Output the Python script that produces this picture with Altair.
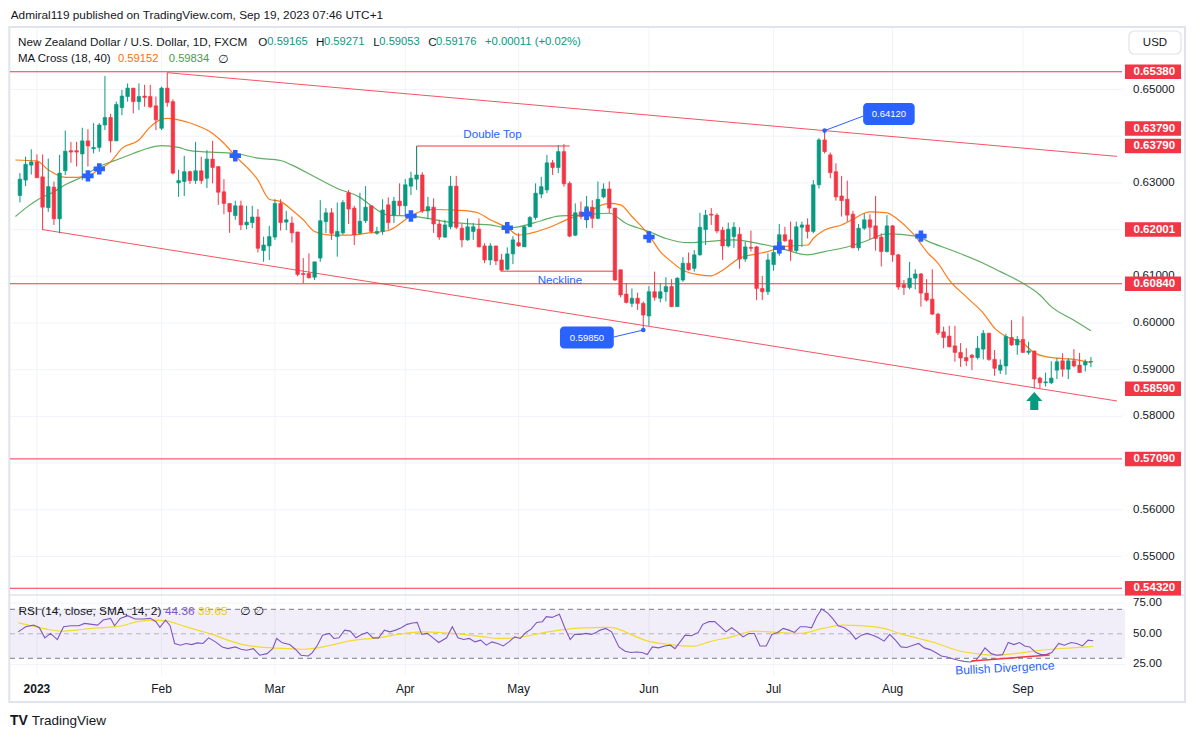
import altair as alt
import pandas as pd
import numpy as np

FONT = "Liberation Sans, DejaVu Sans, sans-serif"
DARK = "#131722"
GREEN = "#089981"
RED = "#f23645"
BLUE = "#2962ff"
ORANGE = "#ff6d00"
MAGREEN = "#43a047"
PURPLE = "#7e57c2"
YELLOW = "#f3da2b"
GRID = "#f0f3fa"
FRAME = "#e0e3eb"

# ---------------- data ----------------
first_index = -3  # bar index of first candle (Dec 28, 2022); 0 = Jan 2, 2023

opens = [
    .6273, .6306, .6338, .6345, .6313, .6247, .6291, .6223, .6326, .6369,
    .6369, .6362, .6390, .6373, .6376, .6424, .6440, .6390, .6461, .6485,
    .6503, .6474, .6486, .6485, .6465, .6417, .6503, .6474, .6300, .6303,
    .6324, .6305, .6326, .6310, .6351, .6335, .6281, .6256, .6230, .6251,
    .6210, .6215, .6227, .6155, .6165, .6184, .6256, .6216, .6214, .6195,
    .6106, .6106, .6098, .6139, .6217, .6236, .6185, .6193, .6279, .6246,
    .6192, .6219, .6251, .6192, .6196, .6253, .6231, .6261, .6251, .6293,
    .6308, .6317, .6240, .6248, .6212, .6184, .6206, .6293, .6203, .6178,
    .6196, .6201, .6165, .6135, .6165, .6135, .6115, .6148, .6172, .6163,
    .6206, .6226, .6276, .6285, .6343, .6333, .6367, .6299, .6188, .6238,
    .6221, .6248, .6224, .6270, .6287, .6246, .6114, .6062, .6042, .6053,
    .6042, .6015, .6067, .6053, .6067, .6078, .6035, .6092, .6128, .6117,
    .6146, .6200, .6233, .6231, .6199, .6165, .6185, .6190, .6137, .6162,
    .6163, .6074, .6067, .6125, .6150, .6189, .6178, .6155, .6205, .6210,
    .6196, .6296, .6392, .6360, .6324, .6272, .6265, .6233, .6161, .6203,
    .6221, .6208, .6184, .6153, .6208, .6146, .6082, .6076, .6096, .6105,
    .6064, .6051, .6019, .5981, .5972, .5951, .5937, .5926, .5931, .5926,
    .5944, .5978, .5922, .5899, .5908, .5969, .5953, .5965, .5937, .5940,
    .5882, .5872, .5872, .5899, .5919, .5901, .5919, .5910, .5910, .59165,
]
highs = [
    .6321, .6356, .6372, .6361, .6361, .6352, .6303, .6360, .6412, .6388,
    .6388, .6418, .6415, .6428, .6428, .6529, .6448, .6474, .6499, .6513,
    .6503, .6513, .6510, .6510, .6485, .6506, .6536, .6479, .6328, .6358,
    .6326, .6388, .6356, .6370, .6390, .6335, .6308, .6256, .6262, .6262,
    .6251, .6251, .6244, .6185, .6208, .6265, .6265, .6240, .6228, .6195,
    .6139, .6149, .6131, .6263, .6246, .6246, .6258, .6263, .6285, .6251,
    .6279, .6293, .6251, .6206, .6265, .6269, .6270, .6299, .6308, .6324,
    .6379, .6323, .6270, .6267, .6221, .6221, .6315, .6315, .6212, .6224,
    .6214, .6224, .6171, .6171, .6165, .6148, .6162, .6186, .6192, .6210,
    .6229, .6299, .6313, .6360, .6349, .6381, .6383, .6303, .6256, .6260,
    .6272, .6263, .6303, .6299, .6303, .6246, .6114, .6085, .6074, .6065,
    .6046, .6079, .6110, .6085, .6098, .6094, .6098, .6141, .6151, .6156,
    .6236, .6242, .6246, .6235, .6206, .6215, .6216, .6205, .6174, .6198,
    .6165, .6101, .6149, .6165, .6212, .6206, .6217, .6217, .6217, .6224,
    .6306, .6396, .6412, .6365, .6342, .6315, .6305, .6240, .6212, .6235,
    .6233, .6272, .6192, .6231, .6210, .6148, .6092, .6131, .6115, .6107,
    .6094, .6115, .6022, .5992, .5994, .5994, .5957, .5946, .5934, .5972,
    .5985, .5979, .5942, .5922, .5977, .6006, .5972, .6014, .5960, .5941,
    .5885, .5894, .5918, .5925, .5935, .5925, .5944, .5936, .5922, .59271,
]
lows = [
    .6258, .6293, .6318, .6311, .6199, .6238, .6210, .6192, .6317, .6343,
    .6335, .6306, .6335, .6363, .6367, .6413, .6365, .6390, .6445, .6474,
    .6449, .6456, .6463, .6460, .6413, .6413, .6463, .6318, .6270, .6272,
    .6298, .6298, .6298, .6289, .6299, .6253, .6233, .6193, .6221, .6199,
    .6201, .6203, .6151, .6131, .6135, .6178, .6198, .6199, .6172, .6100,
    .6085, .6095, .6092, .6131, .6192, .6178, .6142, .6189, .6212, .6167,
    .6189, .6214, .6192, .6189, .6189, .6200, .6214, .6231, .6229, .6274,
    .6285, .6236, .6222, .6193, .6178, .6182, .6201, .6201, .6162, .6176,
    .6178, .6162, .6128, .6124, .6124, .6112, .6113, .6126, .6163, .6163,
    .6206, .6221, .6267, .6278, .6317, .6321, .6292, .6184, .6186, .6222,
    .6203, .6203, .6222, .6267, .6235, .6090, .6055, .6042, .6034, .6028,
    .5985, .5994, .6048, .6044, .6046, .6034, .6034, .6088, .6112, .6110,
    .6144, .6167, .6210, .6192, .6135, .6162, .6161, .6116, .6131, .6153,
    .6049, .6049, .6060, .6112, .6144, .6174, .6133, .6151, .6163, .6181,
    .6192, .6288, .6363, .6310, .6262, .6228, .6217, .6160, .6155, .6199,
    .6179, .6155, .6121, .6151, .6131, .6071, .6060, .6072, .6072, .6035,
    .6046, .6017, .5974, .5946, .5948, .5917, .5906, .5908, .5899, .5922,
    .5922, .5919, .5887, .5891, .5889, .5951, .5932, .5936, .5932, .5860,
    .5860, .5864, .5869, .5880, .5885, .5880, .5905, .5893, .5896, .59053,
]
closes = [
    .6308, .6340, .6345, .6311, .6248, .6292, .6223, .6321, .6368, .6366,
    .6366, .6390, .6379, .6376, .6424, .6440, .6390, .6468, .6486, .6503,
    .6474, .6485, .6483, .6463, .6435, .6503, .6472, .6321, .6305, .6324,
    .6305, .6326, .6305, .6351, .6333, .6280, .6256, .6238, .6251, .6210,
    .6216, .6227, .6160, .6167, .6185, .6256, .6215, .6221, .6193, .6104,
    .6104, .6097, .6131, .6219, .6236, .6192, .6196, .6258, .6244, .6189,
    .6218, .6248, .6196, .6196, .6242, .6215, .6261, .6251, .6296, .6310,
    .6317, .6240, .6249, .6212, .6184, .6210, .6293, .6205, .6178, .6206,
    .6206, .6163, .6135, .6165, .6133, .6113, .6148, .6178, .6165, .6206,
    .6226, .6278, .6292, .6343, .6333, .6367, .6298, .6186, .6236, .6228,
    .6249, .6224, .6265, .6287, .6246, .6092, .6060, .6044, .6053, .6042,
    .6017, .6067, .6055, .6067, .6078, .6035, .6096, .6128, .6114, .6146,
    .6205, .6231, .6231, .6197, .6165, .6201, .6205, .6137, .6163, .6160,
    .6074, .6067, .6135, .6151, .6189, .6176, .6155, .6206, .6210, .6196,
    .6296, .6392, .6367, .6322, .6270, .6262, .6231, .6161, .6203, .6221,
    .6205, .6181, .6153, .6208, .6146, .6077, .6076, .6096, .6105, .6064,
    .6049, .6019, .5979, .5969, .5949, .5937, .5925, .5919, .5926, .5946,
    .5978, .5922, .5903, .5910, .5971, .5953, .5965, .5937, .5940, .5880,
    .5872, .5874, .5882, .5917, .5901, .5919, .5908, .5894, .5917, .59176,
]

# MA Cross (18, 40)
ma18_i = [-3.8, 0, 2, 5, 7, 9, 11, 13, 15, 18, 20, 22, 23, 25, 28, 31, 33, 35, 39, 41,
          43, 45, 47, 49, 52, 55, 58, 62, 66, 68, 70, 73, 76, 78, 80, 83, 85, 87, 90, 92,
          94, 97, 99, 101, 103, 105, 108, 110, 112, 114, 117, 119, 121, 124, 127, 129, 131, 133, 136, 137,
          139, 142, 144, 146, 147, 150, 152, 154, 155, 157, 159, 161, 164, 167, 169, 171, 174, 176, 178, 181,
          183, 186]
ma18_v = [0.6349, 0.6347, 0.6328, 0.6312, 0.6312, 0.6315, 0.6329, 0.6345, 0.6374, 0.6392,
          0.6420, 0.6436, 0.6438, 0.6435, 0.6424, 0.6406, 0.6385, 0.6358, 0.6306, 0.6265,
          0.6260, 0.6242, 0.6221, 0.6196, 0.6188, 0.6188, 0.6192, 0.6198, 0.6229, 0.6240,
          0.6243, 0.6242, 0.6240, 0.6235, 0.6221, 0.6204, 0.6188, 0.6192, 0.6203, 0.6213,
          0.6224, 0.6235, 0.6249, 0.6256, 0.6253, 0.6228, 0.6188, 0.6153, 0.6131, 0.6113,
          0.6103, 0.6101, 0.6113, 0.6139, 0.6148, 0.6153, 0.6161, 0.6165, 0.6167, 0.6181,
          0.6199, 0.6210, 0.6222, 0.6235, 0.6238, 0.6236, 0.6221, 0.6199, 0.6186, 0.6153,
          0.6128, 0.6092, 0.6056, 0.6021, 0.5989, 0.5971, 0.5957, 0.5936, 0.5928, 0.5924,
          0.5922, 0.59152]
ma40_i = [-3.8, -2, 0, 3, 5, 8, 11, 14, 17, 19, 22, 25, 27, 29, 35, 39, 43, 45, 49, 53,
          57, 59, 62, 66, 69, 72, 77, 80, 83, 85, 89, 92, 96, 101, 104, 108, 111, 115, 118, 123,
          127, 131, 136, 139, 142, 146, 150, 155, 158, 162, 167, 170, 174, 177, 179, 183, 186]
ma40_v = [0.6228, 0.6246, 0.6263, 0.6281, 0.6296, 0.6313, 0.6335, 0.6349, 0.6363, 0.6372,
          0.6380, 0.6376, 0.6369, 0.6367, 0.6363, 0.6353, 0.6348, 0.6338, 0.6313, 0.6288,
          0.6269, 0.6251, 0.6231, 0.6229, 0.6224, 0.6217, 0.6212, 0.6210, 0.6204, 0.6206,
          0.6219, 0.6229, 0.6231, 0.6235, 0.6213, 0.6196, 0.6181, 0.6172, 0.6174, 0.6178,
          0.6171, 0.6161, 0.6146, 0.6153, 0.6160, 0.6174, 0.6191, 0.6186, 0.6171, 0.6153,
          0.6128, 0.6110, 0.6085, 0.6060, 0.6035, 0.6006, 0.59834]
cross_i = [9, 11, 35, 66, 83, 97, 108, 131, 156]
cross_p = [0.6315, 0.6330, 0.6358, 0.6229, 0.6204, 0.6233, 0.6184, 0.6161, 0.6186]

# RSI (14) and its SMA
rsi_i = [-3.3, -2.0, -0.6, 0.4, 1.4, 2.4, 3.6, 4.7, 6.0, 7.4,
         8.4, 9.7, 10.7, 11.7, 13.0, 13.7, 14.7, 16.0, 17.3, 18.7,
         20.0, 21.0, 21.7, 22.7, 23.5, 24.3, 25.3, 26.3, 27.3, 28.3,
         29.3, 30.3, 31.5, 32.7, 33.7, 35.0, 36.0, 37.0, 38.2, 39.3,
         40.6, 41.6, 42.3, 43.3, 44.6, 45.6, 46.6, 47.9, 48.6, 49.5,
         50.4, 51.6, 52.4, 53.3, 54.3, 55.3, 56.3, 57.3, 58.3, 59.3,
         60.3, 61.3, 62.3, 63.3, 64.3, 65.3, 66.3, 67.1, 67.9, 68.9,
         69.9, 70.9, 72.3, 73.3, 74.3, 75.3, 76.3, 77.3, 78.3, 79.3,
         80.3, 81.3, 82.3, 83.3, 84.3, 85.3, 86.3, 87.2, 88.2, 89.2,
         89.9, 90.9, 92.2, 93.2, 94.1, 94.9, 95.9, 96.9, 97.9, 98.9,
         99.4, 100.4, 101.4, 102.7, 103.8, 104.8, 105.8, 106.8, 107.7, 108.6,
         109.7, 110.8, 111.8, 112.6, 113.5, 114.4, 115.5, 116.7, 117.5, 118.6,
         119.6, 120.6, 121.6, 122.6, 123.6, 124.6, 125.6, 126.6, 127.6, 128.7,
         129.7, 130.7, 131.7, 132.7, 133.7, 134.7, 135.7, 136.7, 137.6, 138.5,
         139.6, 140.4, 141.4, 142.5, 143.5, 144.5, 145.5, 146.5, 147.5, 148.5,
         149.5, 150.5, 151.5, 152.5, 153.5, 154.6, 155.6, 156.6, 157.6, 158.6,
         159.6, 160.6, 161.6, 162.6, 163.6, 164.7, 165.7, 166.5, 167.3, 168.4,
         169.4, 170.4, 171.4, 172.4, 173.4, 174.3, 175.2, 176.3, 177.2, 178.1,
         179.1, 180.3, 181.3, 182.5, 183.5, 184.5, 185.5, 186.4]
rsi_v = [51.6, 55.8, 57.1, 55.2, 46.7, 50.3, 45.3, 55.8, 56.6, 56.6,
         58.5, 57.7, 57.1, 61.2, 62.6, 56.6, 62.6, 64.8, 62.1, 62.1,
         62.6, 59.9, 55.2, 61.2, 56.6, 42.1, 40.7, 42.1, 41.2, 42.6,
         42.1, 46.7, 43.4, 39.3, 37.9, 39.3, 37.4, 36.6, 37.9, 32.5,
         33.8, 37.9, 46.2, 42.6, 41.2, 37.4, 32.5, 31.9, 34.7, 40.7,
         48.9, 50.3, 46.2, 46.7, 53.0, 52.2, 46.7, 49.5, 51.1, 46.7,
         46.7, 53.0, 51.6, 53.0, 54.9, 57.7, 58.8, 59.3, 49.5, 50.3,
         46.7, 42.9, 46.7, 55.8, 46.7, 45.3, 46.2, 43.4, 44.8, 40.7,
         43.4, 42.1, 40.1, 43.4, 47.5, 46.2, 51.1, 53.8, 59.3, 59.9,
         64.0, 63.4, 65.9, 54.4, 45.3, 49.5, 49.5, 50.3, 49.5, 51.6,
         53.0, 54.4, 51.6, 39.3, 35.8, 34.7, 35.2, 34.7, 33.0, 39.3,
         38.5, 40.1, 40.7, 37.9, 43.4, 48.9, 48.4, 51.1, 57.7, 59.9,
         59.9, 55.8, 51.6, 54.9, 51.6, 47.5, 50.3, 50.3, 40.1, 40.1,
         49.5, 51.1, 54.4, 53.0, 51.1, 55.8, 55.8, 54.9, 64.0, 70.3,
         66.7, 62.6, 56.6, 54.9, 51.6, 45.6, 48.9, 50.3, 48.9, 46.7,
         44.0, 49.5, 44.8, 39.3, 38.8, 40.7, 42.1, 38.5, 37.1, 34.7,
         31.9, 31.1, 29.7, 28.4, 27.5, 27.0, 28.4, 33.0, 38.5, 33.8,
         32.5, 33.0, 42.9, 41.2, 42.9, 40.1, 39.3, 34.7, 33.0, 33.0,
         34.7, 42.1, 40.7, 42.9, 42.1, 40.1, 44.8, 44.36]
sma_i = [-3.3, -1.0, 1.7, 4.4, 7.0, 9.7, 12.3, 15.0, 17.7, 20.3,
         23.0, 25.7, 28.3, 31.0, 33.7, 36.3, 39.0, 41.6, 44.3, 47.0,
         49.6, 52.3, 55.0, 57.6, 60.3, 62.9, 65.6, 68.3, 70.9, 73.6,
         76.3, 78.9, 81.6, 84.2, 86.9, 89.6, 92.2, 94.9, 97.6, 99.4,
         101.1, 103.1, 105.1, 107.8, 111.8, 115.9, 118.6, 122.6, 126.6, 130.7,
         134.7, 138.7, 142.1, 145.5, 149.5, 152.2, 155.6, 158.9, 162.3, 165.7,
         169.0, 172.4, 175.8, 179.1, 182.5, 186.4]
sma_v = [59.0, 56.6, 53.8, 52.2, 53.0, 54.4, 55.2, 56.6, 59.9, 61.2,
         60.4, 56.6, 53.0, 49.5, 44.8, 41.2, 39.3, 38.5, 37.9, 37.4,
         38.5, 41.2, 44.0, 45.6, 46.7, 48.9, 50.8, 51.6, 51.1, 50.3,
         48.9, 47.5, 46.2, 46.7, 48.4, 51.1, 53.0, 54.4, 54.9, 55.2,
         55.2, 53.0, 48.9, 44.0, 41.2, 39.9, 43.4, 47.5, 52.2, 51.1,
         50.3, 54.4, 57.1, 56.6, 54.4, 50.3, 46.2, 42.1, 36.6, 33.8,
         32.5, 33.8, 35.8, 37.4, 38.5, 39.65]

month_index = [0, 22, 42, 65, 85, 108, 130, 151, 174]
month_label = ["2023", "Feb", "Mar", "Apr", "May", "Jun", "Jul", "Aug", "Sep"]
grid_prices = [0.55, 0.56, 0.57, 0.58, 0.59, 0.60, 0.61, 0.62, 0.63, 0.64, 0.65]
tick_prices = [0.55, 0.56, 0.58, 0.59, 0.60, 0.61, 0.63, 0.65]
level_prices = [0.6538, 0.6084, 0.5709, 0.5432]
tag_prices = [0.6538, 0.6379, 0.62001, 0.6084, 0.5859, 0.5709, 0.5432]
rsi_ticks = [25, 50, 75]

channel_i = [23, 190.6, 1, 190.6]
channel_p = [0.6536, 0.63568, 0.6200, 0.5833]
channel_g = ["upper", "upper", "lower", "lower"]
dtop_i = [67, 67, 94]
dtop_p = [0.6317, 0.6379, 0.6379]
neck_i = [81.8, 102.3]
neck_p = [0.6111, 0.6111]
callout_val = ["0.64120", "0.59850"]
callout_pt_i = [139, 107]
callout_pt_p = [0.6412, 0.5985]
callout_box_i1 = [145.8, 92.3]
callout_box_i2 = [154.9, 101.8]
callout_box_p1 = [0.64711, 0.59923]
callout_box_p2 = [0.64240, 0.59452]
callout_link_i = [145.8, 101.8]
callout_link_p = [0.6443, 0.5970]
div_i = [164.9, 178.7]
div_v = [27.8, 32.7]
arrow_i = [176]
arrow_p = [0.5833]

# ---------------- scales ----------------
X = alt.Scale(domain=[-3.87, 190.6], range=[2.0, 1114.0], zero=False, nice=False)
Y = alt.Scale(domain=[0.54, 0.66], range=[595.2, 34.8], zero=False, nice=False)
R = alt.Scale(domain=[0, 100], range=[687.05, 564.55], zero=False, nice=False)
CS = alt.Scale(domain=["up", "down"], range=[GREEN, RED])


def xq(f="i"):
    return alt.X(f"{f}:Q", scale=X, axis=None)


def yq(f="p", sc=Y):
    return alt.Y(f"{f}:Q", scale=sc, axis=None)


ONE = pd.DataFrame({"a": [0]})


def label(text, x, y, color=DARK, size=11.8, weight="normal", align="left"):
    return alt.Chart(pd.DataFrame({"t": [text]})).mark_text(
        align=align, baseline="middle", font=FONT, fontSize=size,
        fontWeight=weight, color=color
    ).encode(x=alt.value(x), y=alt.value(y), text="t:N")


idx = list(range(first_index, first_index + len(opens)))
candles = pd.DataFrame({"i": idx, "o": opens, "h": highs, "l": lows, "c": closes})
candles["dir"] = np.where(candles["c"] >= candles["o"], "up", "down")

layers = []

# frame & grid
layers.append(alt.Chart(ONE).mark_rect(filled=False, stroke=FRAME, strokeWidth=2).encode(
    x=alt.value(1.3), x2=alt.value(1177), y=alt.value(19), y2=alt.value(694)))
layers.append(alt.Chart(pd.DataFrame({"i": month_index})).mark_rule(color=GRID, strokeWidth=1).encode(
    x=xq(), y=alt.value(20), y2=alt.value(667)))
layers.append(alt.Chart(pd.DataFrame({"p": grid_prices})).mark_rule(color=GRID, strokeWidth=1).encode(
    y=yq(), x=alt.value(2), x2=alt.value(1114)))
layers.append(alt.Chart(pd.DataFrame({"v": [25, 75]})).mark_rule(color=GRID, strokeWidth=1).encode(
    y=yq("v", R), x=alt.value(2), x2=alt.value(1117)))

# RSI band and band lines
layers.append(alt.Chart(pd.DataFrame({"a": [30], "b": [70]})).mark_rect(color=PURPLE, opacity=0.1).encode(
    y=yq("a", R), y2="b:Q", x=alt.value(2), x2=alt.value(1117)))
layers.append(alt.Chart(pd.DataFrame({"v": [30, 70]})).mark_rule(color="#787b86", strokeWidth=1, strokeDash=[5, 4]).encode(
    y=yq("v", R), x=alt.value(2), x2=alt.value(1117)))
layers.append(alt.Chart(pd.DataFrame({"v": [50]})).mark_rule(color="#787b86", opacity=0.5, strokeWidth=1, strokeDash=[5, 4]).encode(
    y=yq("v", R), x=alt.value(2), x2=alt.value(1117)))

# pane separator
layers.append(alt.Chart(ONE).mark_rule(color=FRAME, strokeWidth=1.5).encode(
    x=alt.value(1.3), x2=alt.value(1177), y=alt.value(587)))

# horizontal levels and channel
layers.append(alt.Chart(pd.DataFrame({"p": level_prices})).mark_rule(color=RED, strokeWidth=1).encode(
    y=yq(), x=alt.value(2), x2=alt.value(1114)))
layers.append(alt.Chart(pd.DataFrame({"i": channel_i, "p": channel_p, "g": channel_g})).mark_line(
    color=RED, strokeWidth=1, opacity=0.85).encode(x=xq(), y=yq(), detail="g:N"))
layers.append(alt.Chart(pd.DataFrame({"i": dtop_i, "p": dtop_p, "o": [0, 1, 2]})).mark_line(
    color=RED, strokeWidth=1).encode(x=xq(), y=yq(), order="o:Q"))
layers.append(alt.Chart(pd.DataFrame({"i": neck_i, "p": neck_p})).mark_line(
    color=RED, strokeWidth=1).encode(x=xq(), y=yq()))

# moving averages
layers.append(alt.Chart(pd.DataFrame({"i": ma40_i, "p": ma40_v})).mark_line(
    color=MAGREEN, strokeWidth=1.2, opacity=0.85, interpolate="monotone").encode(x=xq(), y=yq()))
layers.append(alt.Chart(pd.DataFrame({"i": ma18_i, "p": ma18_v})).mark_line(
    color=ORANGE, strokeWidth=1.2, opacity=0.9, interpolate="monotone").encode(x=xq(), y=yq()))

# candles
layers.append(alt.Chart(candles).mark_rule(strokeWidth=1).encode(
    x=xq(), y=yq("l"), y2="h:Q", color=alt.Color("dir:N", scale=CS, legend=None)))
layers.append(alt.Chart(candles).mark_bar(size=3.6, strokeWidth=0.6).encode(
    x=xq(), y=yq("o"), y2="c:Q",
    color=alt.Color("dir:N", scale=CS, legend=None),
    stroke=alt.Stroke("dir:N", scale=CS, legend=None)))

# MA cross markers
layers.append(alt.Chart(pd.DataFrame({"i": cross_i, "p": cross_p})).mark_point(
    shape="cross", filled=True, size=130, color=BLUE, opacity=1, strokeWidth=0).encode(x=xq(), y=yq()))

# callouts
links = pd.DataFrame({
    "i": callout_pt_i + callout_link_i,
    "p": callout_pt_p + callout_link_p,
    "g": [0, 1, 0, 1]})
layers.append(alt.Chart(links).mark_line(color=BLUE, strokeWidth=1).encode(x=xq(), y=yq(), detail="g:N"))
layers.append(alt.Chart(pd.DataFrame({"i": callout_pt_i, "p": callout_pt_p})).mark_point(
    filled=True, size=22, color=BLUE, opacity=1).encode(x=xq(), y=yq()))
boxes = pd.DataFrame({"i1": callout_box_i1, "i2": callout_box_i2, "p1": callout_box_p1,
                      "p2": callout_box_p2, "t": callout_val})
boxes["im"] = (boxes["i1"] + boxes["i2"]) / 2
boxes["pm"] = (boxes["p1"] + boxes["p2"]) / 2
layers.append(alt.Chart(boxes).mark_rect(color=BLUE, cornerRadius=4).encode(
    x=xq("i1"), x2="i2:Q", y=yq("p1"), y2="p2:Q"))
layers.append(alt.Chart(boxes).mark_text(color="white", font=FONT, fontSize=9.5, baseline="middle").encode(
    x=xq("im"), y=yq("pm"), text="t:N"))

# arrow
ARROW = "M0,-1L0.9,0L0.45,0L0.45,1L-0.45,1L-0.45,0L-0.9,0Z"
layers.append(alt.Chart(pd.DataFrame({"i": arrow_i, "p": arrow_p})).mark_point(
    shape=ARROW, filled=True, size=324, color=GREEN, opacity=1, strokeWidth=0).encode(x=xq(), y=yq()))

# RSI
layers.append(alt.Chart(pd.DataFrame({"i": sma_i, "v": sma_v})).mark_line(
    color=YELLOW, strokeWidth=1.2, interpolate="monotone").encode(x=xq(), y=yq("v", R)))
layers.append(alt.Chart(pd.DataFrame({"i": rsi_i, "v": rsi_v})).mark_line(
    color=PURPLE, strokeWidth=1.1).encode(x=xq(), y=yq("v", R)))
layers.append(alt.Chart(pd.DataFrame({"i": div_i, "v": div_v})).mark_line(
    color=RED, strokeWidth=1.5).encode(x=xq(), y=yq("v", R)))

# annotation texts
ann = pd.DataFrame({"i": [80.4, 92.3], "p": [0.64026, 0.6090], "t": ["Double Top", "Neckline"]})
layers.append(alt.Chart(ann).mark_text(color=BLUE, font=FONT, fontSize=11.6, baseline="middle").encode(
    x=xq(), y=yq(), text="t:N"))
layers.append(alt.Chart(pd.DataFrame({"i": [170.8], "v": [22.1], "t": ["Bullish Divergence"]})).mark_text(
    color=BLUE, font=FONT, fontSize=12, baseline="middle", angle=357).encode(
    x=xq(), y=yq("v", R), text="t:N"))

# right price scale
ticks = pd.DataFrame({"p": tick_prices})
ticks["t"] = ticks["p"].map(lambda v: f"{v:.5f}")
layers.append(alt.Chart(ticks).mark_text(color=DARK, font=FONT, fontSize=11.5, align="left", baseline="middle").encode(
    x=alt.value(1125), y=yq(), text="t:N"))
tags = pd.DataFrame({"p": tag_prices})
tags["t"] = tags["p"].map(lambda v: f"{v:.5f}")
tag_up = tags[tags["p"] == 0.6379].copy()
layers.append(alt.Chart(tags).mark_rule(color=RED, strokeWidth=14.5, strokeCap="butt").encode(
    x=alt.value(1117), x2=alt.value(1173), y=yq()))
layers.append(alt.Chart(tags).mark_text(color="white", font=FONT, fontSize=11.5, fontWeight="bold",
                                        align="left", baseline="middle").encode(
    x=alt.value(1125.5), y=yq(), text="t:N"))
layers.append(alt.Chart(tag_up).mark_rule(color=RED, strokeWidth=14.5, strokeCap="butt", yOffset=-17.5).encode(
    x=alt.value(1117), x2=alt.value(1173), y=yq()))
layers.append(alt.Chart(tag_up).mark_text(color="white", font=FONT, fontSize=11.5, fontWeight="bold",
                                          align="left", baseline="middle", dy=-17.5).encode(
    x=alt.value(1125.5), y=yq(), text="t:N"))
rt = pd.DataFrame({"v": rsi_ticks})
rt["t"] = rt["v"].map(lambda v: f"{v:.2f}")
layers.append(alt.Chart(rt).mark_text(color=DARK, font=FONT, fontSize=11.5, align="left", baseline="middle").encode(
    x=alt.value(1125), y=yq("v", R), text="t:N"))
layers.append(alt.Chart(ONE).mark_rect(fill="white", stroke=FRAME, strokeWidth=1.2, cornerRadius=5).encode(
    x=alt.value(1121), x2=alt.value(1173), y=alt.value(23), y2=alt.value(46)))
layers.append(label("USD", 1147, 34.5, size=11.5, align="center"))

# time axis labels
mx = pd.DataFrame({"i": month_index, "t": month_label})
mx["w"] = ["bold"] + ["normal"] * (len(month_label) - 1)
layers.append(alt.Chart(mx[mx["w"] == "bold"]).mark_text(color=DARK, font=FONT, fontSize=12, fontWeight="bold",
                                                         baseline="middle").encode(
    x=xq(), y=alt.value(681.3), text="t:N"))
layers.append(alt.Chart(mx[mx["w"] == "normal"]).mark_text(color=DARK, font=FONT, fontSize=12,
                                                           baseline="middle").encode(
    x=xq(), y=alt.value(681.3), text="t:N"))

# header texts
last = len(opens) - 1
layers.append(label("Admiral119 published on TradingView.com, Sep 19, 2023 07:46 UTC+1", 2.7, 7, size=11.8))
layers.append(label("New Zealand Dollar / U.S. Dollar, 1D, FXCM", 10, 34.3, size=11.7))
for t, x, col, sz in [("O", 250.3, DARK, 11.7), (f"{opens[last]:.5f}", 259.3, GREEN, 11.2),
                      ("H", 308, DARK, 11.7), (f"{highs[last]:.5f}", 316, GREEN, 11.2),
                      ("L", 365.3, DARK, 11.7), (f"{lows[last]:.5f}", 371.3, GREEN, 11.2),
                      ("C", 420.3, DARK, 11.7), (f"{closes[last]:.5f}", 428, GREEN, 11.2),
                      ("+0.00011 (+0.02%)", 477, GREEN, 11.3)]:
    layers.append(label(t, x, 34.3, color=col, size=sz))
layers.append(label("MA Cross (18, 40)", 10, 51, size=11.5))
layers.append(label(f"{ma18_v[-1]:.5f}", 110, 51, color=ORANGE, size=11.2))
layers.append(label(f"{ma40_v[-1]:.5f}", 160.8, 51, color=MAGREEN, size=11.2))
layers.append(label("\u2205", 210, 51))
layers.append(label("RSI (14, close, SMA, 14, 2)", 10.4, 603))
layers.append(label(f"{rsi_v[-1]:.2f}", 157, 603, color=PURPLE))
layers.append(label(f"{sma_v[-1]:.2f}", 190, 603, color="#e8cc1a"))
layers.append(label("\u2205  \u2205", 232, 603))

# footer logo
layers.append(label("TV", 2, 712.7, size=14, weight=900))
layers.append(label("TradingView", 23.7, 712.7, size=13.5))

chart = alt.layer(*layers).resolve_scale(
    y="independent", color="independent", stroke="independent"
).properties(
    width=1179, height=722,
    autosize=alt.AutoSizeParams(type="none"),
    padding=0,
    background="white",
).configure_view(stroke=None)

chart.save("out.html", embed_options={"renderer": "svg", "actions": False})
